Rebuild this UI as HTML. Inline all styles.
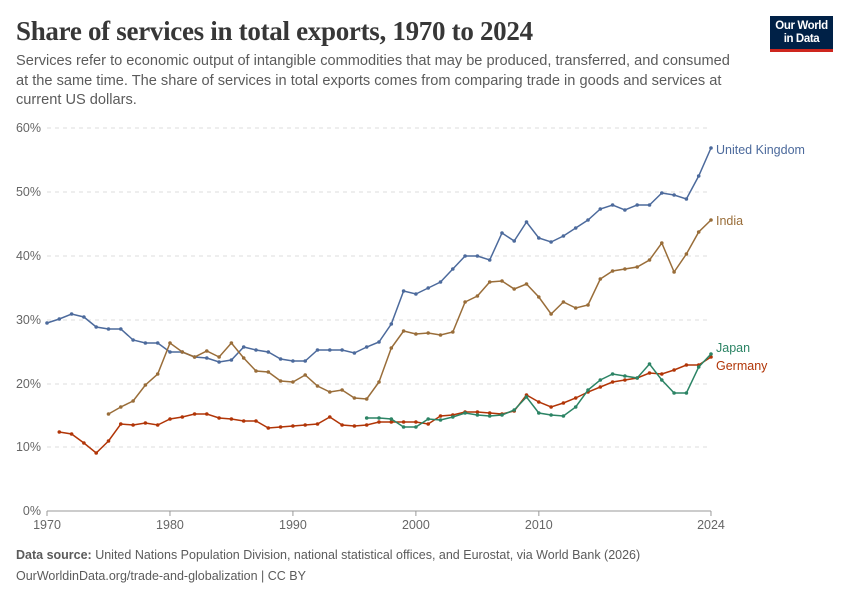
<!DOCTYPE html>
<html><head><meta charset="utf-8"><style>
body{margin:0;background:#fff;width:850px;height:600px;overflow:hidden;font-family:"Liberation Sans",sans-serif;position:relative}
.t{position:absolute;left:16px;top:16px;font-family:"Liberation Serif",serif;font-size:27px;font-weight:bold;color:#373737;white-space:nowrap;letter-spacing:-0.3px}
.s{position:absolute;left:16px;top:52px;font-size:14.6px;line-height:19.5px;color:#5b5b5b;white-space:nowrap}
.logo{position:absolute;left:770px;top:16px;width:63px;height:36px;background:#002147;border-bottom:3px solid #ce261e;color:#fff;font-size:11.5px;font-weight:bold;line-height:13px;text-align:center;padding-top:4px;box-sizing:border-box;letter-spacing:-0.4px}
.f{position:absolute;left:16px;font-size:12.5px;color:#5b5b5b;white-space:nowrap}
</style></head><body>
<div class="t">Share of services in total exports, 1970 to 2024</div>
<div class="s">Services refer to economic output of intangible commodities that may be produced, transferred, and consumed<br>at the same time. The share of services in total exports comes from comparing trade in goods and services at<br>current US dollars.</div>
<div class="logo">Our World<br>in Data</div>
<svg id="c" width="850" height="600" style="position:absolute;left:0;top:0" xmlns="http://www.w3.org/2000/svg"></svg>
<div class="f" style="top:548px"><b>Data source:</b> United Nations Population Division, national statistical offices, and Eurostat, via World Bank (2026)</div>
<div class="f" style="top:569px">OurWorldinData.org/trade-and-globalization | CC BY</div>
<script>
var s='';
var ys=[511,447,384,320,256,192,128];
for(var i=0;i<7;i++){
 s+='<line x1="47" x2="711" y1="'+ys[i]+'" y2="'+ys[i]+'" stroke="'+(i==0?'#999':'#ddd')+'" stroke-dasharray="'+(i==0?'':'4,4')+'"/>';
 s+='<text x="41" y="'+(ys[i]+4)+'" text-anchor="end" font-size="12.5" fill="#666" font-family="Liberation Sans">'+(i*10)+'%</text>';
}
function X(y){return 47+(y-1970)*12.296;}
[[1970,'1970'],[1980,'1980'],[1990,'1990'],[2000,'2000'],[2010,'2010'],[2024,'2024']].forEach(function(t){
 s+='<line x1="'+X(t[0])+'" x2="'+X(t[0])+'" y1="511" y2="516" stroke="#999"/>';
 s+='<text x="'+X(t[0])+'" y="529" text-anchor="middle" font-size="12.5" fill="#666" font-family="Liberation Sans">'+t[1]+'</text>';
});
var D=[
['#4c6a9c',1970,[323,319,314,317,327,329,329,340,343,343,352,352,357,358,362,360,347,350,352,359,361,361,350,350,350,353,347,342,324,291,294,288,282,269,256,256,260,233,241,222,238,242,236,228,220,209,205,210,205,205,193,195,199,176,148],'United Kingdom',153],
['#996d39',1975,[414,407,401,385,374,343,352,357,351,357,343,358,371,372,381,382,375,386,392,390,398,399,382,348,331,334,333,335,332,302,296,282,281,289,284,297,314,302,308,305,279,271,269,267,260,243,272,254,232,220],'India',224],
['#b13507',1971,[432,434,443,453,441,424,425,423,425,419,417,414,414,418,419,421,421,428,427,426,425,424,417,425,426,425,422,422,422,422,424,416,415,412,412,413,414,411,395,402,407,403,398,392,387,382,380,378,373,374,370,365,365,357],'Germany',369],
['#2c8465',1996,[418,418,419,427,427,419,420,417,413,415,416,415,410,397,413,415,416,407,390,380,374,376,378,364,380,393,393,367,354],'Japan',351]
];
D.forEach(function(d){
 var p=[],c='';
 d[2].forEach(function(v,i){var x=X(d[1]+i);p.push(x.toFixed(1)+','+v);c+='<circle cx="'+x.toFixed(1)+'" cy="'+v+'" r="1.8" fill="'+d[0]+'"/>';});
 s+='<polyline points="'+p.join(' ')+'" fill="none" stroke="'+d[0]+'" stroke-width="1.5"/>'+c;
 s+='<text x="716" y="'+(d[4]+1)+'" font-size="12.5" fill="'+d[0]+'" font-family="Liberation Sans">'+d[3]+'</text>';
});
document.getElementById('c').innerHTML=s;
</script>
</body></html>
